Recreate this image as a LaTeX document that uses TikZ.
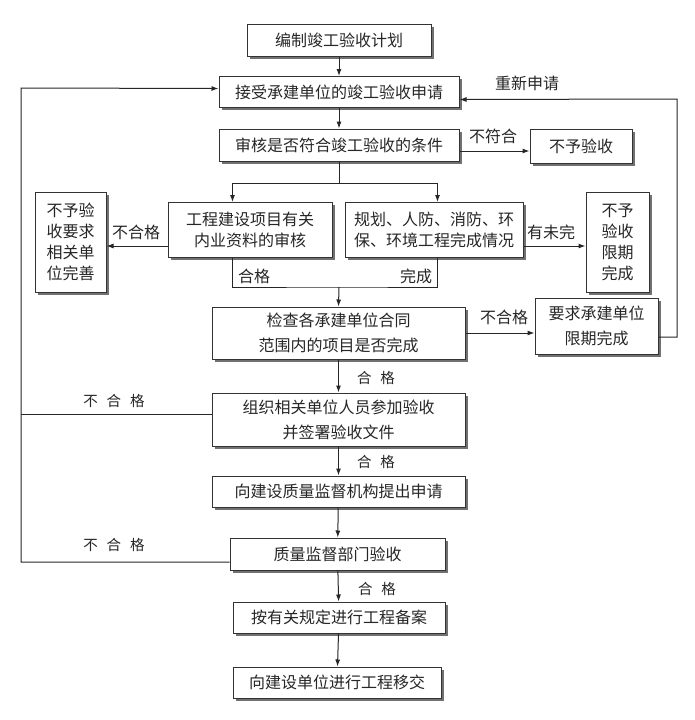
\documentclass[tikz,border=0pt]{standalone}
\usepackage{fontspec}
\setmainfont{Noto Sans CJK SC}
\usetikzlibrary{shadows,arrows.meta}
\tikzset{
  box/.style={draw=black!80, line width=1pt, fill=white, align=center, inner sep=0pt,
    font=\fontsize{16}{21}\selectfont, text=black!85,
    drop shadow={shadow xshift=2.5pt, shadow yshift=-2.5pt, fill=black!65, opacity=0.85}},
  sz/.style 2 args={minimum width=#1pt, minimum height=#2pt},
  arr/.style={-{Latex[length=7pt,width=5pt]}, line width=1pt, draw=black!85},
  ln/.style={line width=1pt, draw=black!85},
  lab/.style={font=\fontsize{16}{18}\selectfont, text=black!85, inner sep=0pt},
  slab/.style={font=\fontsize{14.5}{18}\selectfont, text=black!85, inner sep=0pt}
}
\begin{document}
\begin{tikzpicture}[x=1pt,y=-1pt]
\useasboundingbox[fill=white] (0,0) rectangle (695,720);
% boxes
\node[box,sz={184}{32}] (b1) at (339,40) {编制竣工验收计划};
\node[box,sz={240}{31}] (b2) at (339,92) {接受承建单位的竣工验收申请};
\node[box,sz={240}{32}] (b3) at (339,145) {审核是否符合竣工验收的条件};
\node[box,sz={102}{34}] (no1) at (581,146) {不予验收};
\node[box,sz={164}{55}] (b4) at (250,230) {工程建设项目有关\\内业资料的审核};
\node[box,sz={178}{55}] (b5) at (434,230) {规划、人防、消防、环\\保、环境工程完成情况};
\node[box,sz={71}{100}] (l1) at (70.5,242) {不予验\\收要求\\相关单\\位完善};
\node[box,sz={63}{100}] (r1) at (617.5,242) {不予\\验收\\限期\\完成};
\node[box,sz={253}{52},font=\fontsize{16}{25}\selectfont] (b6) at (338.5,333) {检查各承建单位合同\\范围内的项目是否完成};
\node[box,sz={123}{56},font=\fontsize{16}{25}\selectfont] (r2) at (596.5,326) {要求承建单位\\限期完成};
\node[box,sz={253}{53},font=\fontsize{16}{25}\selectfont] (b7) at (338.5,419.5) {组织相关单位人员参加验收\\并签署验收文件};
\node[box,sz={253}{31}] (b8) at (338.5,491.5) {向建设质量监督机构提出申请};
\node[box,sz={215}{32}] (b9) at (337.5,554) {质量监督部门验收};
\node[box,sz={212}{31}] (b10) at (339,617.5) {按有关规定进行工程备案};
\node[box,sz={208}{31}] (b11) at (337,682.5) {向建设单位进行工程移交};
% coordinates
\coordinate (split) at (339,183);
\coordinate (merge) at (339,287);
\coordinate (rtop) at (677,99);
\coordinate (rbot) at (677,337);
\coordinate (ltop) at (21,88);
\coordinate (lmid) at (21,414);
\coordinate (lbot) at (21,562);
% main flow
\draw[arr] (b1) -- (b2);
\draw[arr] (b2) -- (b3);
\draw[arr] ([yshift=-6pt]b3.east) -- ([yshift=-6pt]b3.east -| no1.west);
\draw[ln] (b3.south) -- (split);
\draw[arr] (split) -| ([xshift=65pt]b4.north west);
\draw[arr] (split) -| ([xshift=93pt]b5.north west);
\draw[arr] ([yshift=-16pt]b4.west) -- ([yshift=-16pt]b4.west -| l1.east);
\draw[arr] ([yshift=-16pt]b5.east) -- ([yshift=-16pt]b5.east -| r1.west);
\draw[ln] ([xshift=65pt]b4.south west) |- (merge) -| ([xshift=93pt]b5.south west);
\draw[arr] (merge) -- (b6.north);
\draw[arr] (b6.east) -- (b6.east -| r2.west);
\draw[arr] ([yshift=-11pt]r2.east) -- (rbot) -- (rtop) -- ([yshift=-7.5pt]b2.east);
\draw[arr] (b6) -- (b7);
\draw[arr] (b7) -- (b8);
\draw[arr] (b8) -- (b9);
\draw[arr] (b9) -- (b10);
\draw[arr] (b10) -- (b11);
\draw[ln] ([yshift=5.5pt]b7.west) -- (lmid);
\draw[arr] ([yshift=-8pt]b9.west) -- (lbot) -- (ltop) -- ([yshift=3.5pt]b2.west);
% labels
\node[lab] (t1) at (527,83) {重新申请};
\node[lab] (t2) at (493,136) {不符合};
\node[lab] (t3) at (136,232) {不合格};
\node[lab] (t4) at (551,232) {有未完};
\node[lab] (t5) at (254,276) {合格};
\node[lab] (t6) at (416,276) {完成};
\node[lab] (t7) at (504,317) {不合格};
\node[slab] (t8) at (376,378) {合\hspace{9pt}格};
\node[slab] (t9) at (376,462) {合\hspace{9pt}格};
\node[slab] (t10) at (377,589) {合\hspace{9pt}格};
\node[slab] (t11) at (114,401) {不\hspace{9pt}合\hspace{9pt}格};
\node[slab] (t12) at (114,545) {不\hspace{9pt}合\hspace{9pt}格};
\end{tikzpicture}
\end{document}
